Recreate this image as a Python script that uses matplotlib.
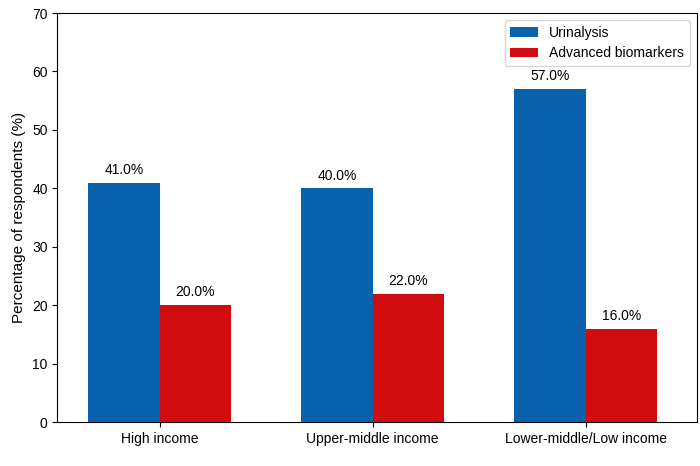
import numpy as np
import matplotlib
matplotlib.use("Agg")
import matplotlib.pyplot as plt

plt.rcParams['font.family'] = ['Liberation Sans', 'DejaVu Sans']

categories = ['High income', 'Upper-middle income', 'Lower-middle/Low income']
urinalysis = [41.0, 40.0, 57.0]
biomarkers = [20.0, 22.0, 16.0]

x = np.arange(len(categories))
width = 0.335

fig, ax = plt.subplots(figsize=(7, 4.66), dpi=100)
b1 = ax.bar(x - width / 2, urinalysis, width, color='#0b62ac', label='Urinalysis')
b2 = ax.bar(x + width / 2, biomarkers, width, color='#d10c0e', label='Advanced biomarkers')

for bars in (b1, b2):
    for bar in bars:
        h = bar.get_height()
        ax.text(bar.get_x() + bar.get_width() / 2, h + 1, f'{h:.1f}%',
                ha='center', va='bottom', fontsize=10)

ax.set_xticks(x)
ax.set_xticklabels(categories, fontsize=10)
ax.set_ylim(0, 70)
ax.set_xlim(-0.48, 2.52)
ax.set_yticks(range(0, 71, 10))
ax.tick_params(axis='y', labelsize=10)
ax.set_ylabel('Percentage of respondents (%)', fontsize=11)
ax.legend(loc='upper right', fontsize=10)

fig.subplots_adjust(left=0.082, right=0.995, top=0.972, bottom=0.094)
fig.savefig('out.png', dpi=100)
